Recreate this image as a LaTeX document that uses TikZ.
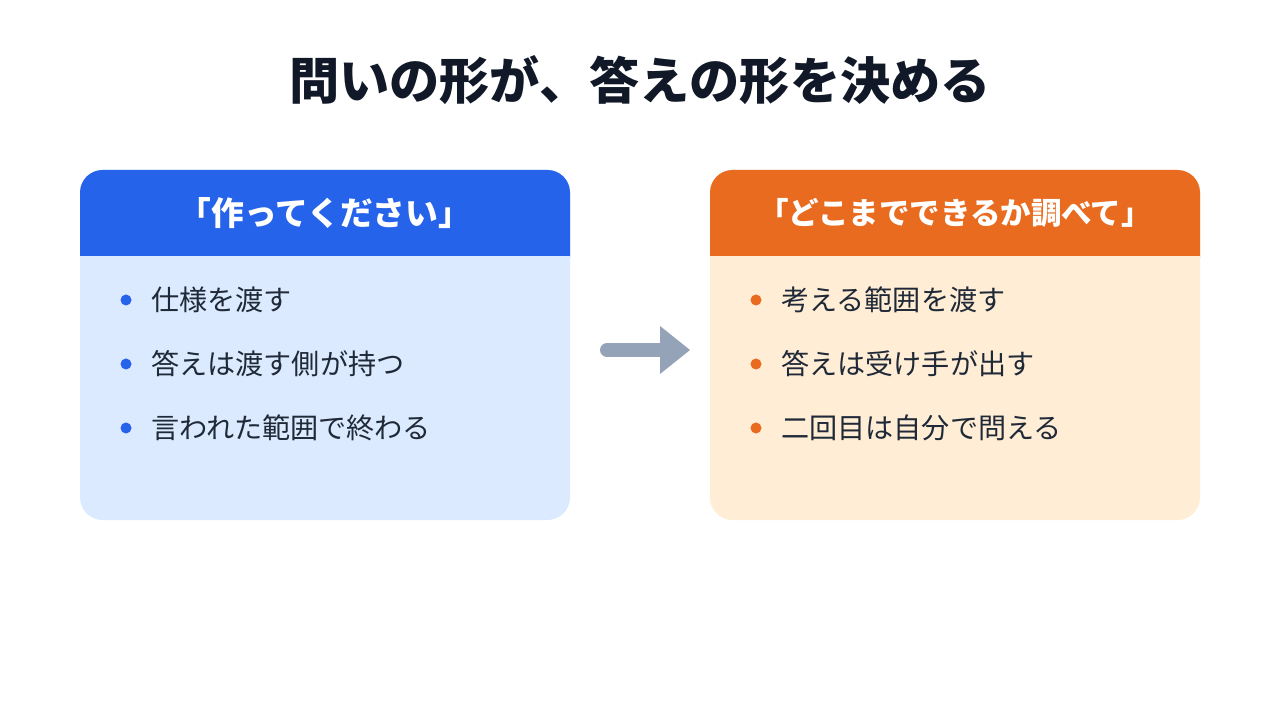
\documentclass[tikz,border=0pt]{standalone}
\usepackage{fontspec}
\setmainfont{Noto Sans CJK JP}
\usepackage{tikz}

\definecolor{titlecol}{HTML}{111827}
\definecolor{textcol}{HTML}{1F2937}
\definecolor{askblue}{HTML}{2563EB}
\definecolor{askbluebg}{HTML}{DBEAFE}
\definecolor{askorange}{HTML}{E96B1F}
\definecolor{askorangebg}{HTML}{FFEDD5}
\definecolor{arrowgray}{HTML}{94A3B8}

\tikzset{
  head/.style={text=white, font=\fontsize{23.3pt}{26pt}\selectfont\bfseries},
  item/.style={anchor=west, text=textcol, inner sep=0pt, font=\fontsize{20pt}{22pt}\selectfont},
}

\begin{document}
\begin{tikzpicture}[x=0.025cm,y=-0.025cm]
\useasboundingbox (0,0) rectangle (1280,720);
\node[text=titlecol, font=\fontsize{35.7pt}{40pt}\selectfont\bfseries] (title) at (640,80) {問いの形が、答えの形を決める};

% left box
\fill[askbluebg, rounded corners=16] (80,170) rectangle (570,520);
\fill[askblue, rounded corners=16] (80,170) rectangle (570,280);
\fill[askbluebg] (80,256) rectangle (570,282);
\node[head] (lhead) at (325,213) {「作ってください」};
\fill[askblue] (126,300) circle(5.5);
\node[item] (l1) at (151,300) {仕様を渡す};
\fill[askblue] (126,364) circle(5.5);
\node[item] (l2) at (151,364) {答えは渡す側が持つ};
\fill[askblue] (126,428) circle(5.5);
\node[item] (l3) at (151,428) {言われた範囲で終わる};

% right box
\fill[askorangebg, rounded corners=16] (710,170) rectangle (1200,520);
\fill[askorange, rounded corners=16] (710,170) rectangle (1200,280);
\fill[askorangebg] (710,256) rectangle (1200,282);
\node[head, font=\fontsize{21.7pt}{24pt}\selectfont\bfseries] (rhead) at (955,213) {「どこまでできるか調べて」};
\fill[askorange] (756,300) circle(5.5);
\node[item] (r1) at (781,300) {考える範囲を渡す};
\fill[askorange] (756,364) circle(5.5);
\node[item] (r2) at (781,364) {答えは受け手が出す};
\fill[askorange] (756,428) circle(5.5);
\node[item] (r3) at (781,428) {二回目は自分で問える};

% arrow
\coordinate (afrom) at (607,350);
\coordinate (ato) at (662,350);
\draw[arrowgray, line width=9.96pt, line cap=round] (afrom) -- (ato);
\fill[arrowgray] (660,326) -- (690,350) -- (660,374) -- cycle;
\end{tikzpicture}
\end{document}
